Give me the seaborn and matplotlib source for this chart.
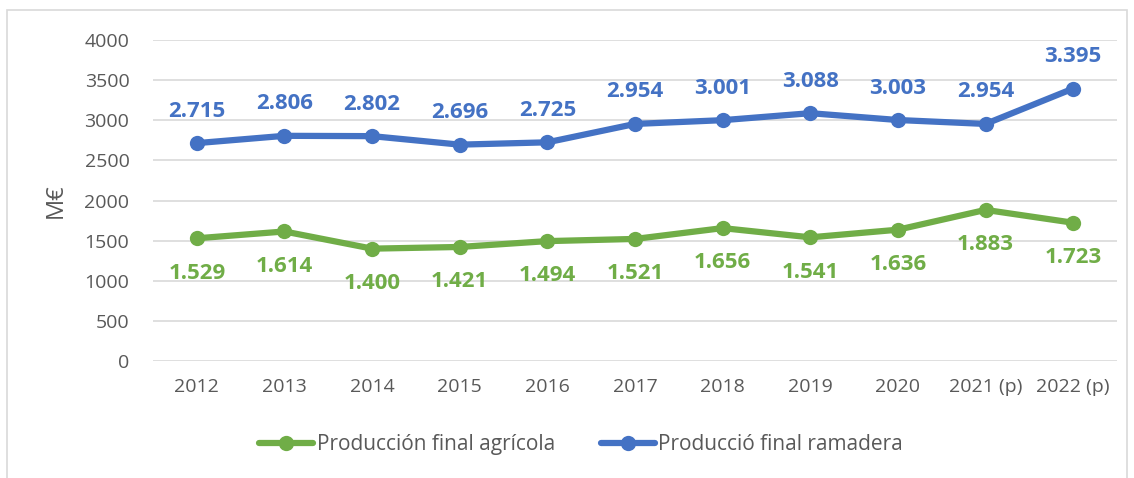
import matplotlib
matplotlib.use("Agg")
import matplotlib.pyplot as plt
import seaborn as sns
import pandas as pd
from matplotlib.patches import Rectangle

years = ["2012", "2013", "2014", "2015", "2016", "2017", "2018", "2019", "2020", "2021 (p)", "2022 (p)"]
agricola = [1529, 1614, 1400, 1421, 1494, 1521, 1656, 1541, 1636, 1883, 1723]
ramadera = [2715, 2806, 2802, 2696, 2725, 2954, 3001, 3088, 3003, 2954, 3395]
series_names = ["Producción final agrícola", "Producció final ramadera"]
colors = ["#70AD47", "#4472C4"]

sns.set_theme(style="white")
plt.rcParams["font.family"] = ["Open Sans", "DejaVu Sans"]

rows = []
for i, y in enumerate(years):
    rows.append({"idx": i, "year": y, "value": agricola[i], "serie": series_names[0]})
    rows.append({"idx": i, "year": y, "value": ramadera[i], "serie": series_names[1]})
df = pd.DataFrame(rows)

fig = plt.figure(figsize=(11.34, 4.78), dpi=100)
ax = fig.add_axes([153/1134, 1 - 361/478, (1117-153)/1134, (361-40)/478])

sns.lineplot(data=df, x="idx", y="value", hue="serie", palette=colors,
             hue_order=series_names, marker="o", markersize=11, linewidth=4.5,
             markeredgewidth=0, ax=ax, legend=True)

ax.set_xlim(-0.5, len(years) - 0.5)
ax.set_ylim(0, 4000)
ax.set_yticks(range(0, 4001, 500))
ax.yaxis.grid(True, color="#d9d9d9", linewidth=1.2)
ax.set_axisbelow(True)
for s in ax.spines.values():
    s.set_visible(False)
ax.set_xticks(range(len(years)))
ax.set_xticklabels(years)
ax.tick_params(axis="both", colors="#595959", labelsize=14, length=0)
ax.tick_params(axis="x", pad=12)
ax.tick_params(axis="y", pad=17)
ax.set_xlabel("")
ax.set_ylabel("M€", fontsize=17, color="#595959", labelpad=12)

fmt = lambda v: f"{v/1000:.3f}"
for i in range(len(years)):
    ax.annotate(fmt(ramadera[i]), (i, ramadera[i]), xytext=(0, 23), textcoords="offset points",
                ha="center", va="center", color=colors[1], fontsize=16, fontweight="bold")
    ax.annotate(fmt(agricola[i]), (i, agricola[i]), xytext=(0, -25), textcoords="offset points",
                ha="center", va="center", color=colors[0], fontsize=16, fontweight="bold")

leg = ax.legend(loc="center", bbox_to_anchor=(0.444, -0.26), ncol=2, frameon=False,
                fontsize=15, handlelength=2.6, handletextpad=0.15, columnspacing=2.2)
for t in leg.get_texts():
    t.set_color("#595959")

fig.patches.append(Rectangle((7/1134, -0.01), (1127-7)/1134, 1 - 10/478 + 0.01,
                             transform=fig.transFigure, fill=False,
                             edgecolor="#d9d9d9", linewidth=1.2))

fig.savefig("out.png", dpi=100)
